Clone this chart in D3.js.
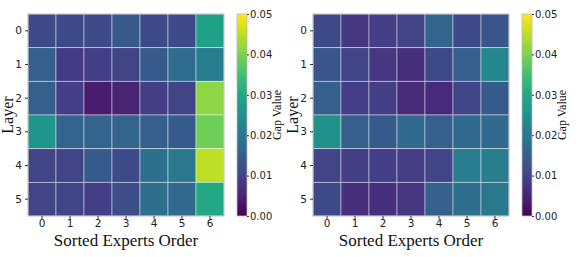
<!DOCTYPE html>
<html>
  <head>
    <script src="https://cdn.jsdelivr.net/npm/d3@7"></script>
    <style>
      body { margin: 0; background: #fff; }
    </style>
  </head>
  <body>
    <svg width="579" height="257" id="mainsvg"></svg>
    <script>
      const experts = [0, 1, 2, 3, 4, 5, 6];
      const layers = [0, 1, 2, 3, 4, 5];
      const cbTicks = [0, 0.01, 0.02, 0.03, 0.04, 0.05];

      // gap values, rows = layers, cols = sorted experts
      const gapLeft = [
        [0.011, 0.011, 0.011, 0.014, 0.011, 0.011, 0.0285],
        [0.015, 0.0085, 0.009, 0.010, 0.014, 0.0175, 0.021],
        [0.015, 0.009, 0.004, 0.005, 0.009, 0.010, 0.0415],
        [0.026, 0.016, 0.016, 0.016, 0.015, 0.014, 0.039],
        [0.010, 0.010, 0.014, 0.011, 0.018, 0.020, 0.045],
        [0.010, 0.010, 0.009, 0.012, 0.018, 0.017, 0.030]
      ];
      const gapRight = [
        [0.011, 0.008, 0.009, 0.010, 0.016, 0.011, 0.013],
        [0.013, 0.010, 0.008, 0.007, 0.011, 0.015, 0.023],
        [0.015, 0.009, 0.009, 0.006, 0.006, 0.010, 0.014],
        [0.025, 0.015, 0.014, 0.017, 0.015, 0.017, 0.017],
        [0.010, 0.009, 0.009, 0.009, 0.010, 0.021, 0.021],
        [0.011, 0.007, 0.007, 0.008, 0.015, 0.018, 0.020]
      ];

      const svg = d3.select('#mainsvg');
      const color = d3.scaleSequential(d3.interpolateViridis).domain([0, 0.05]);
      const serif = '"Liberation Serif", "DejaVu Serif", serif';
      const sans = '"DejaVu Sans", sans-serif';

      const defs = svg.append('defs');
      const grad = defs.append('linearGradient').attr('id', 'cbgrad')
        .attr('x1', 0).attr('y1', 1).attr('x2', 0).attr('y2', 0);
      d3.range(0, 1.001, 0.05).forEach(t => {
        grad.append('stop').attr('offset', t).attr('stop-color', d3.interpolateViridis(t));
      });

      function heatmap(data, left) {
        const top = 14, w = 196, h = 202;
        const g = svg.append('g').attr('transform', `translate(${left},${top})`);
        const x = d3.scaleBand().domain(experts).range([0, w]);
        const y = d3.scaleBand().domain(layers).range([0, h]);

        layers.forEach(r => {
          g.selectAll(null).data(experts).join('rect')
            .attr('x', c => x(c)).attr('y', y(r))
            .attr('width', x.bandwidth()).attr('height', y.bandwidth())
            .attr('fill', c => color(data[r][c]))
            .attr('stroke', 'rgba(255,255,255,0.55)').attr('stroke-width', 0.8);
        });
        g.append('rect').attr('width', w).attr('height', h)
          .attr('fill', 'none').attr('stroke', '#bbb').attr('stroke-width', 1);

        const xa = g.append('g').attr('transform', `translate(0,${h})`)
          .call(d3.axisBottom(x).tickSize(3).tickPadding(1));
        const ya = g.append('g').call(d3.axisLeft(y).tickSize(3).tickPadding(3));
        [xa, ya].forEach(a => {
          a.select('.domain').remove();
          a.selectAll('line').attr('stroke', '#333');
          a.selectAll('text').attr('font-family', sans).attr('font-size', 10.5).attr('fill', '#222');
        });

        g.append('text').attr('x', w / 2).attr('y', h + 30)
          .attr('text-anchor', 'middle').attr('font-family', serif).attr('font-size', 17)
          .attr('fill', '#111').text('Sorted Experts Order');
        g.append('text').attr('transform', `translate(${-15},${h / 2}) rotate(-90)`)
          .attr('text-anchor', 'middle').attr('font-family', serif).attr('font-size', 16)
          .attr('fill', '#111').text('Layer');

        // colorbar
        const cbx = w + 13, cbw = 10;
        const cy = d3.scaleLinear().domain([0, 0.05]).range([h, 0]);
        const cb = g.append('g').attr('transform', `translate(${cbx},0)`);
        cb.append('rect').attr('width', cbw).attr('height', h)
          .attr('fill', 'url(#cbgrad)').attr('stroke', '#bbb').attr('stroke-width', 0.8);
        const ca = cb.append('g').attr('transform', `translate(${cbw},0)`)
          .call(d3.axisRight(cy).tickValues(cbTicks).tickFormat(d3.format('.2f')).tickSize(2).tickPadding(1));
        ca.select('.domain').remove();
        ca.selectAll('line').attr('stroke', '#333');
        ca.selectAll('text').attr('font-family', sans).attr('font-size', 10).attr('fill', '#222');
        cb.append('text').attr('transform', `translate(${cbw + 34},${h / 2}) rotate(-90)`)
          .attr('text-anchor', 'middle').attr('font-family', serif).attr('font-size', 12)
          .attr('fill', '#111').text('Gap Value');
      }

      heatmap(gapLeft, 28);
      heatmap(gapRight, 313);
    </script>
  </body>
</html>
